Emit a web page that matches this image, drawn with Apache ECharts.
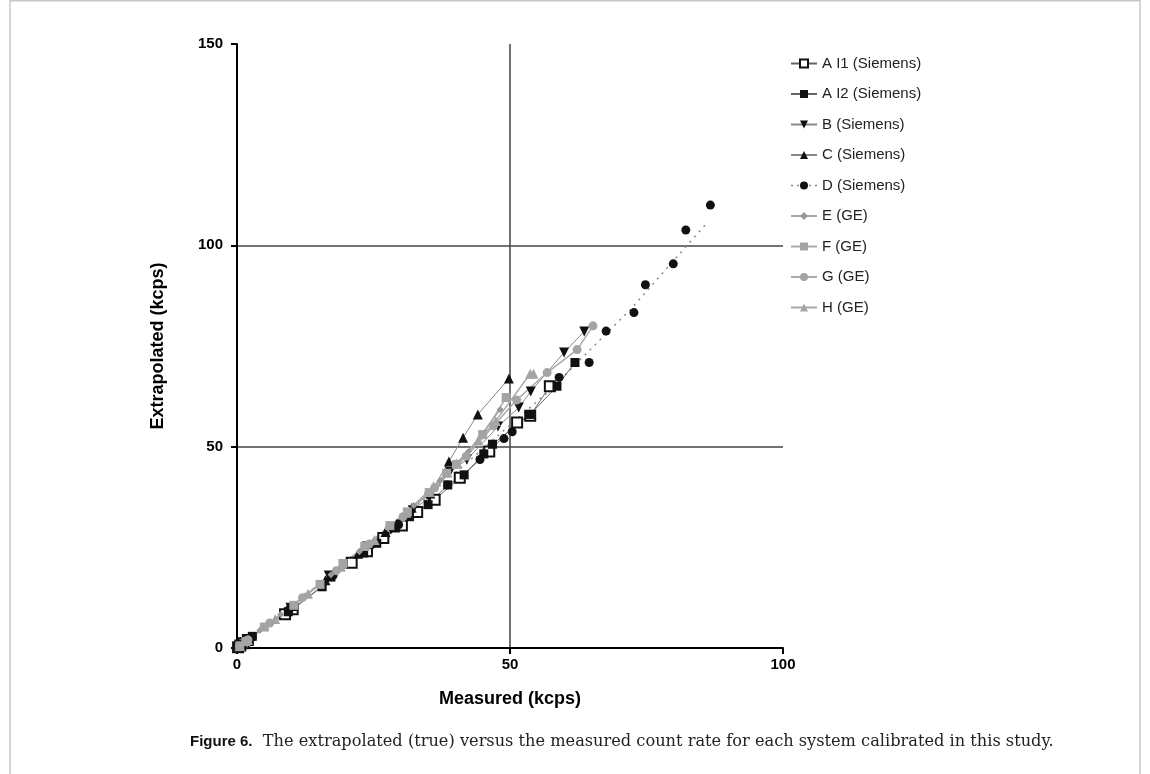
<!DOCTYPE html>
<html>
<head>
<meta charset="utf-8">
<script src="https://cdn.jsdelivr.net/npm/echarts@6/dist/echarts.min.js"></script>
<style>
html,body{margin:0;padding:0;background:#fff;}
#c{width:1150px;height:774px;}
</style>
</head>
<body>
<div id="c"></div>
<script>
// ---- data ----
const seriesNames = ["A I1 (Siemens)", "A I2 (Siemens)", "B (Siemens)", "C (Siemens)", "D (Siemens)", "E (GE)", "F (GE)", "G (GE)", "H (GE)"];
const xTicks = [0, 50, 100];
const yTicks = [0, 50, 100, 150];

const aI1X = [0.2, 0.6, 1.2, 2.0, 8.8, 10.2, 21.0, 23.8, 26.8, 30.2, 33.0, 36.2, 40.8, 46.2, 51.3, 53.7, 57.3];
const aI1Y = [0.2, 0.6, 1.2, 2.0, 8.4, 9.6, 21.2, 24.0, 27.3, 30.4, 33.8, 36.8, 42.3, 48.8, 56.0, 57.7, 65.0];

const aI2X = [0.3, 0.9, 1.8, 2.8, 9.4, 15.6, 17.2, 23.2, 25.6, 29.0, 31.6, 35.0, 38.6, 41.6, 45.2, 46.8, 53.7, 58.6, 61.9];
const aI2Y = [0.3, 0.9, 1.8, 2.9, 9.0, 15.2, 17.6, 23.6, 26.0, 29.8, 32.6, 35.6, 40.5, 43.0, 48.2, 50.6, 58.0, 65.0, 70.9];

const bX = [0.4, 1.4, 9.8, 16.8, 23.8, 28.2, 32.2, 35.2, 39.0, 42.1, 47.8, 51.6, 53.8, 59.9, 63.6];
const bY = [0.4, 1.5, 10.0, 18.0, 25.2, 29.4, 34.2, 37.4, 43.8, 46.8, 55.0, 59.7, 63.7, 73.4, 78.6];

const cX = [0.5, 1.6, 10.2, 16.2, 22.2, 27.2, 32.0, 35.4, 38.8, 41.4, 44.1, 49.8];
const cY = [0.5, 1.7, 10.4, 16.8, 23.4, 28.8, 34.8, 38.4, 46.3, 52.2, 58.0, 66.9];

const dX = [0.4, 1.3, 2.8, 9.6, 17.6, 24.6, 29.6, 38.6, 44.5, 48.9, 50.4, 59.0, 64.5, 67.6, 72.7, 74.8, 79.9, 82.2, 86.7];
const dY = [0.4, 1.3, 2.8, 9.6, 18.0, 25.6, 30.6, 40.5, 46.8, 52.0, 53.7, 67.2, 70.9, 78.7, 83.3, 90.2, 95.4, 103.8, 110.0];
const dFitX = [0, 20, 40, 56.8, 72, 86.1];
const dFitY = [0, 20.8, 43.5, 63.4, 84, 105.6];

const eX = [0.3, 1.0, 2.2, 4.2, 8.0, 12.4, 17.2, 22.4, 27.6, 32.4, 37.2, 42.4, 48.2];
const eY = [0.3, 1.0, 2.3, 4.4, 8.3, 12.9, 18.2, 23.9, 29.8, 35.4, 41.6, 48.8, 59.2];

const fX = [0.5, 1.6, 5.0, 10.4, 15.2, 19.4, 23.4, 28.0, 31.2, 35.2, 38.4, 40.2, 45.0, 49.3];
const fY = [0.5, 1.6, 5.2, 10.6, 15.8, 21.0, 25.2, 30.4, 33.8, 38.6, 43.4, 45.6, 53.0, 62.2];

const gX = [0.5, 2.0, 6.0, 12.0, 18.2, 24.2, 30.4, 36.2, 42.0, 47.0, 51.2, 56.8, 62.3, 65.2];
const gY = [0.5, 2.0, 6.2, 12.5, 19.2, 25.8, 32.6, 39.8, 47.6, 55.2, 61.6, 68.4, 74.1, 80.0];

const hX = [0.5, 2.0, 7.0, 13.0, 19.0, 25.2, 31.0, 36.0, 40.2, 44.2, 47.4, 53.7, 54.3];
const hY = [0.5, 2.0, 7.2, 13.5, 20.2, 26.8, 33.6, 40.2, 45.8, 51.6, 56.4, 68.1, 68.1];

const xName = "Measured (kcps)";
const yName = "Extrapolated (kcps)";
const captionLabel = "Figure 6.";
const captionText = "  The extrapolated (true) versus the measured count rate for each system calibrated in this study.";

// ---- build ----
function pairs(xs, ys) { return xs.map((x, i) => [x, ys[i]]); }

const BLACK = '#111';
const GREY = '#a4a4a4';
const SANS = 'Liberation Sans, Arial, sans-serif';

function mk(name, xs, ys, sym, size, itemStyle, lineStyle, extra) {
  return Object.assign({
    name: name, type: 'line', data: pairs(xs, ys),
    symbol: sym, symbolSize: size, showAllSymbol: true,
    itemStyle: itemStyle, lineStyle: lineStyle, emphasis: { disabled: true },
    z: 3
  }, extra || {});
}

const series = [
  mk('D fit', dFitX, dFitY, 'none', 0, { color: '#888' }, { color: '#888', width: 1.5, type: [2, 5] }, { z: 2 }),
  mk(seriesNames[0], aI1X, aI1Y, 'rect', 10, { color: '#fff', borderColor: BLACK, borderWidth: 2 }, { color: '#666', width: 1 }),
  mk(seriesNames[1], aI2X, aI2Y, 'rect', 9, { color: BLACK }, { color: '#666', width: 1 }),
  mk(seriesNames[2], bX, bY, 'triangle', 10, { color: BLACK }, { color: '#888', width: 1 }, { symbolRotate: 180 }),
  mk(seriesNames[3], cX, cY, 'triangle', 10, { color: BLACK }, { color: '#888', width: 1 }),
  mk(seriesNames[4], dX, dY, 'circle', 9, { color: BLACK }, { color: '#888', width: 1.5, type: [2, 5], opacity: 0 }),
  mk(seriesNames[5], eX, eY, 'diamond', 7, { color: '#999' }, { color: '#aaa', width: 1.5 }),
  mk(seriesNames[6], fX, fY, 'rect', 9, { color: GREY }, { color: '#aaa', width: 1.5 }),
  mk(seriesNames[7], gX, gY, 'circle', 9, { color: GREY }, { color: '#aaa', width: 1.5 }),
  mk(seriesNames[8], hX, hY, 'triangle', 10, { color: GREY }, { color: '#aaa', width: 1.5 })
];

const legendData = seriesNames.map(n => n === seriesNames[4]
  ? { name: n, lineStyle: { opacity: 1, color: '#888', width: 1.5, type: [2, 4] } }
  : { name: n });

const axisCommon = {
  axisLine: { show: true, lineStyle: { color: '#000', width: 2 } },
  axisTick: { show: true, inside: false, length: 6, lineStyle: { color: '#000', width: 2 } },
  axisLabel: { color: '#000', fontSize: 15, fontWeight: 'bold', fontFamily: SANS },
  splitLine: { show: true, showMinLine: false, showMaxLine: false, lineStyle: { color: '#444', width: 1.5 } },
  nameTextStyle: { color: '#000', fontSize: 18, fontWeight: 'bold', fontFamily: SANS }
};

const option = {
  animation: false,
  backgroundColor: '#fff',
  grid: { left: 237, top: 44, right: 367, bottom: 126, containLabel: false },
  xAxis: Object.assign({}, axisCommon, {
    type: 'value', min: xTicks[0], max: xTicks[xTicks.length - 1], interval: 50,
    name: xName, nameLocation: 'middle', nameGap: 42,
    axisLabel: Object.assign({}, axisCommon.axisLabel, { margin: 9 })
  }),
  yAxis: Object.assign({}, axisCommon, {
    type: 'value', min: yTicks[0], max: yTicks[yTicks.length - 1], interval: 50,
    name: yName, nameLocation: 'middle', nameGap: 70,
    axisLabel: Object.assign({}, axisCommon.axisLabel, { margin: 14 })
  }),
  legend: {
    orient: 'vertical', left: 785, top: 51,
    itemWidth: 26, itemHeight: 10, itemGap: 15.5,
    data: legendData,
    textStyle: { color: '#222', fontSize: 15, fontFamily: SANS },
    selectedMode: false
  },
  graphic: [
    { type: 'line', shape: { x1: 10, y1: 0, x2: 10, y2: 774 }, style: { stroke: '#c8c8c8', lineWidth: 1.5 }, silent: true },
    { type: 'line', shape: { x1: 1140, y1: 0, x2: 1140, y2: 774 }, style: { stroke: '#c8c8c8', lineWidth: 1.5 }, silent: true },
    { type: 'line', shape: { x1: 10, y1: 0.8, x2: 1140, y2: 0.8 }, style: { stroke: '#c8c8c8', lineWidth: 1.5 }, silent: true },
    {
      type: 'text', left: 190, top: 734, silent: true,
      style: {
        text: '{b|' + captionLabel + '}{r|' + captionText + '}',
        rich: {
          b: { fontFamily: SANS, fontWeight: 'bold', fontSize: 15, fill: '#111' },
          r: { fontFamily: 'DejaVu Serif, Liberation Serif, serif', fontSize: 16.2, fill: '#222' }
        }
      }
    }
  ],
  series: series
};

const chart = echarts.init(document.getElementById('c'), null, { renderer: 'canvas' });
chart.setOption(option);
</script>
</body>
</html>
